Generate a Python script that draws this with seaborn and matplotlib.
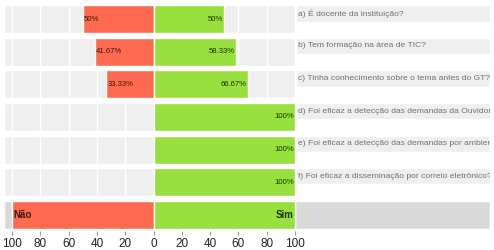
import matplotlib
matplotlib.use('Agg')
import matplotlib.pyplot as plt
import numpy as np
import pandas as pd
import seaborn as sns

# questions and answers (percent)
questions = ['a) É docente da instituição?',
             'b) Tem formação na área de TIC?',
             'c) Tinha conhecimento sobre o tema antes do GT?',
             'd) Foi eficaz a detecção das demandas da Ouvidoria',
             'e) Foi eficaz a detecção das demandas por ambiente',
             'f) Foi eficaz a disseminação por correio eletrônico?']
nao = [50, 41.67, 33.33, 0, 0, 0]
sim = [50, 58.33, 66.67, 100, 100, 100]
nao_labels = ['50%', '41.67%', '33.33%', '', '', '']
sim_labels = ['50%', '58.33%', '66.67%', '100%', '100%', '100%']
key_names = ['Não', 'Sim']
ticks = [-100, -80, -60, -40, -20, 0, 20, 40, 60, 80, 100]

red = '#fd6a4f'
green = '#97e03d'

sns.set_style('white')
plt.rcParams['font.family'] = ['Liberation Sans', 'DejaVu Sans']

# add the key row at the bottom
rows = questions + ['key']
df = pd.DataFrame({'row': rows,
                   'nao': [-v for v in nao] + [-100],
                   'sim': sim + [100]})

fig = plt.figure(figsize=(4.94, 2.5), dpi=100)
ax = fig.add_axes([4 / 494, 1 - 231 / 250, 486 / 494, 228 / 250])

xmin, xmax = -105.7, 237.8
n = len(rows)
h = 0.86

# background bands
for i in range(n):
    if i < n - 1:
        ax.barh(i, 100 - xmin, left=xmin, height=h, color='#efefef', zorder=0)
        # label box
        ax.barh(i - h / 2 + 0.25, xmax - 100.7, left=100.7, height=0.5,
                color='#efefef', zorder=0)
        ax.text(102, i - h / 2 + 0.25, questions[i], fontsize=6.1, color='#707070',
                va='center', ha='left', clip_on=True, zorder=3)
    else:
        ax.barh(i, xmax - xmin, left=xmin, height=h, color='#d9d9d9', zorder=0)

# white gridlines
for t in ticks:
    ax.axvline(t, color='white', lw=1, zorder=1)

sns.barplot(data=df, x='nao', y='row', orient='h', color=red, width=h,
            saturation=1, ax=ax, zorder=2)
sns.barplot(data=df, x='sim', y='row', orient='h', color=green, width=h,
            saturation=1, ax=ax, zorder=2)

# value labels
for i in range(len(questions)):
    if nao_labels[i]:
        ax.text(-nao[i] + 0.8, i, nao_labels[i], fontsize=5.6, color='#3a1a10',
                va='center', ha='left', zorder=3)
    ax.text(sim[i] - 0.8, i, sim_labels[i], fontsize=5.6, color='#1c3300',
            va='center', ha='right', zorder=3)

# key labels
ax.text(-99, n - 1, key_names[0], fontsize=7, fontweight='bold', color='#3a1a10',
        va='center', ha='left', zorder=3)
ax.text(99, n - 1, key_names[1], fontsize=7, fontweight='bold', color='#1c3300',
        va='center', ha='right', zorder=3)

ax.set_xlim(xmin, xmax)
ax.set_ylim(n - 0.5, -0.5)
ax.set_xticks(ticks)
ax.set_xticklabels([str(abs(t)) for t in ticks], fontsize=8.5, color='#222222')
ax.tick_params(axis='x', length=3, color='#999999', pad=2, bottom=True)
ax.set_yticks([])
ax.set_xlabel('')
ax.set_ylabel('')
for s in ax.spines.values():
    s.set_visible(False)

fig.savefig('out.png', dpi=100)
